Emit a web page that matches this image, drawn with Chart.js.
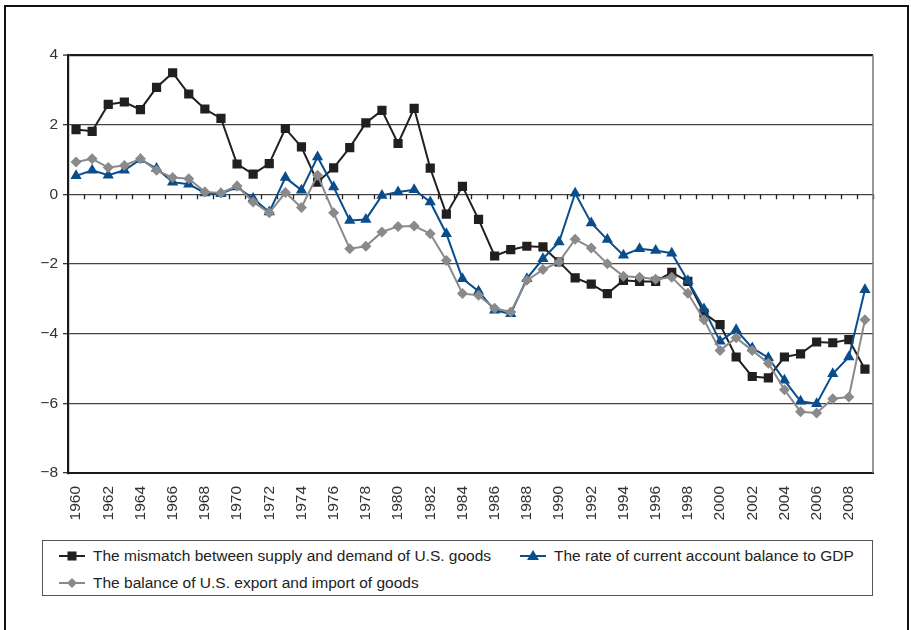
<!DOCTYPE html>
<html><head><meta charset="utf-8">
<script src="https://cdn.jsdelivr.net/npm/chart.js@4.4.1/dist/chart.umd.min.js"></script>
<style>
html,body{margin:0;padding:0;background:#fff;width:911px;height:630px;overflow:hidden;font-family:"Liberation Sans",Arial,sans-serif;}
#frame{position:absolute;left:4px;top:5px;width:901px;height:700px;border:2px solid #111;}
#wrap{position:absolute;left:0;top:0;width:911px;height:530px;}
#legend{position:absolute;left:42px;top:540px;width:829px;height:54px;border:1.5px solid #555;}
.item{position:absolute;height:20px;display:flex;align-items:center;font-size:15.5px;color:#222;white-space:nowrap;}
.item svg{margin-right:8px;}
</style></head>
<body>
<div id="frame"></div>
<div id="wrap"><canvas id="c" width="911" height="530"></canvas></div>
<div id="legend"></div>
<script>
const years = ['1960','1961','1962','1963','1964','1965','1966','1967','1968','1969',
  '1970','1971','1972','1973','1974','1975','1976','1977','1978','1979',
  '1980','1981','1982','1983','1984','1985','1986','1987','1988','1989',
  '1990','1991','1992','1993','1994','1995','1996','1997','1998','1999',
  '2000','2001','2002','2003','2004','2005','2006','2007','2008','2009'];
const shownYearTicks = ['1960','1962','1964','1966','1968','1970','1972','1974','1976','1978',
  '1980','1982','1984','1986','1988','1990','1992','1994','1996','1998',
  '2000','2002','2004','2006','2008'];
const yTicks = [4, 2, 0, -2, -4, -6, -8];

const seriesNames = [
  'The mismatch between supply and demand of U.S. goods',
  'The rate of current account balance to GDP',
  'The balance of U.S. export and import of goods'
];
const mismatch = [1.86,1.81,2.58,2.65,2.43,3.07,3.49,2.88,2.45,2.18,
  0.87,0.58,0.88,1.89,1.36,0.35,0.76,1.34,2.05,2.41,
  1.46,2.47,0.75,-0.57,0.23,-0.72,-1.77,-1.59,-1.49,-1.51,
  -1.94,-2.40,-2.58,-2.85,-2.47,-2.50,-2.50,-2.24,-2.50,-3.41,
  -3.74,-4.67,-5.23,-5.27,-4.67,-4.58,-4.24,-4.26,-4.17,-5.02];
const currentAccount = [0.53,0.69,0.55,0.69,1.00,0.74,0.35,0.29,0.04,0.02,
  0.21,-0.12,-0.51,0.48,0.12,1.07,0.21,-0.75,-0.72,-0.03,
  0.07,0.13,-0.22,-1.13,-2.42,-2.78,-3.33,-3.43,-2.42,-1.85,
  -1.37,0.03,-0.82,-1.30,-1.75,-1.56,-1.61,-1.69,-2.48,-3.29,
  -4.22,-3.89,-4.41,-4.69,-5.34,-5.94,-6.01,-5.15,-4.67,-2.74];
const goodsBalance = [0.93,1.02,0.77,0.83,1.02,0.69,0.48,0.45,0.07,0.04,
  0.24,-0.22,-0.53,0.05,-0.38,0.55,-0.53,-1.56,-1.49,-1.08,
  -0.92,-0.91,-1.13,-1.90,-2.85,-2.90,-3.27,-3.38,-2.47,-2.16,
  -1.94,-1.29,-1.54,-1.99,-2.35,-2.38,-2.44,-2.38,-2.84,-3.60,
  -4.48,-4.12,-4.48,-4.85,-5.61,-6.24,-6.28,-5.87,-5.82,-3.60];

const BLACK = '#231f20', BLUE = '#0a4d8c', GRAY = '#8a8a8c';
const FONT = '"Liberation Sans", Arial, sans-serif';

const frameLines = {
  id: 'frameLines',
  beforeDatasetsDraw(chart) {
    const {ctx, chartArea: a, scales: {x, y}} = chart;
    ctx.save();
    const y0 = y.getPixelForValue(0);
    const step = x.getPixelForValue(1) - x.getPixelForValue(0);
    ctx.strokeStyle = '#222';
    ctx.lineWidth = 1.3;
    ctx.beginPath();
    for (let i = 0; i < years.length; i++) {
      const px = Math.round(x.getPixelForValue(i) + step / 2) + 0.5;
      ctx.moveTo(px, y0);
      ctx.lineTo(px, y0 + 5);
    }
    ctx.stroke();
    ctx.strokeStyle = '#777';
    ctx.lineWidth = 1.5;
    ctx.beginPath();
    ctx.moveTo(a.right, a.top);
    ctx.lineTo(a.right, a.bottom);
    ctx.stroke();
    ctx.restore();
  }
};

new Chart(document.getElementById('c'), {
  type: 'line',
  data: {
    labels: years,
    datasets: [
      {label: seriesNames[0], data: mismatch, borderColor: BLACK, backgroundColor: BLACK,
       pointStyle: 'rect', pointRadius: 6.5, pointBorderWidth: 0, borderWidth: 2, order: 3},
      {label: seriesNames[1], data: currentAccount, borderColor: BLUE, backgroundColor: BLUE,
       pointStyle: 'triangle', pointRadius: 6.5, pointBorderWidth: 0, borderWidth: 2, order: 2},
      {label: seriesNames[2], data: goodsBalance, borderColor: GRAY, backgroundColor: GRAY,
       pointStyle: 'rectRot', pointRadius: 5.5, pointBorderWidth: 0, borderWidth: 2, order: 1}
    ]
  },
  options: {
    responsive: false,
    animation: false,
    devicePixelRatio: 1,
    layout: {padding: {top: 55, right: 38, left: 0, bottom: 0}},
    elements: {line: {tension: 0}},
    plugins: {legend: {display: false}, tooltip: {enabled: false}},
    scales: {
      x: {
        offset: true,
        grid: {display: false, drawTicks: false},
        border: {display: true, color: '#1a1a1a', width: 2},
        ticks: {
          autoSkip: false, maxRotation: 90, minRotation: 90, padding: 13,
          color: '#333', font: {family: FONT, size: 15.5},
          callback: function(v) { const l = this.getLabelForValue(v); return shownYearTicks.includes(l) ? l : ''; }
        },
        afterFit(s) { s.height = 57; }
      },
      y: {
        min: -8, max: 4,
        afterBuildTicks(s) { s.ticks = yTicks.map(v => ({value: v})); },
        grid: {
          drawTicks: true, tickLength: 5,
          color: (c) => (c.tick && (c.tick.value === 4)) ? '#1a1a1a' : (c.tick && c.tick.value === -8 ? 'rgba(0,0,0,0)' : '#444'),
          lineWidth: (c) => (c.tick && c.tick.value === 4) ? 2.2 : 1.3,
          tickColor: '#333', tickWidth: 1.3
        },
        border: {display: true, color: '#1a1a1a', width: 2.2},
        ticks: {
          padding: 5, color: '#333', font: {family: FONT, size: 15.5},
          callback: (v) => v < 0 ? '\u2212' + Math.abs(v) : String(v)
        },
        afterFit(s) { s.width = 68; }
      }
    }
  },
  plugins: [frameLines]
});

const legendEl = document.getElementById('legend');
function markerSvg(color, shape) {
  let m = '';
  if (shape === 'rect') m = `<rect x="8.5" y="5.5" width="9" height="9" fill="${color}"/>`;
  if (shape === 'triangle') m = `<polygon points="13,4 19,14 7,14" fill="${color}"/>`;
  if (shape === 'rectRot') m = `<polygon points="13,5 18,10 13,15 8,10" fill="${color}"/>`;
  return `<svg width="26" height="20" viewBox="0 0 26 20"><line x1="0" y1="10" x2="26" y2="10" stroke="${color}" stroke-width="2"/>${m}</svg>`;
}
const legendItems = [
  {name: seriesNames[0], color: BLACK, shape: 'rect', left: 16, top: 5},
  {name: seriesNames[1], color: BLUE, shape: 'triangle', left: 477, top: 5},
  {name: seriesNames[2], color: GRAY, shape: 'rectRot', left: 16, top: 32}
];
legendItems.forEach(it => {
  const d = document.createElement('div');
  d.className = 'item';
  d.style.left = it.left + 'px';
  d.style.top = it.top + 'px';
  d.innerHTML = markerSvg(it.color, it.shape) + '<span>' + it.name + '</span>';
  legendEl.appendChild(d);
});
</script>
</body></html>
